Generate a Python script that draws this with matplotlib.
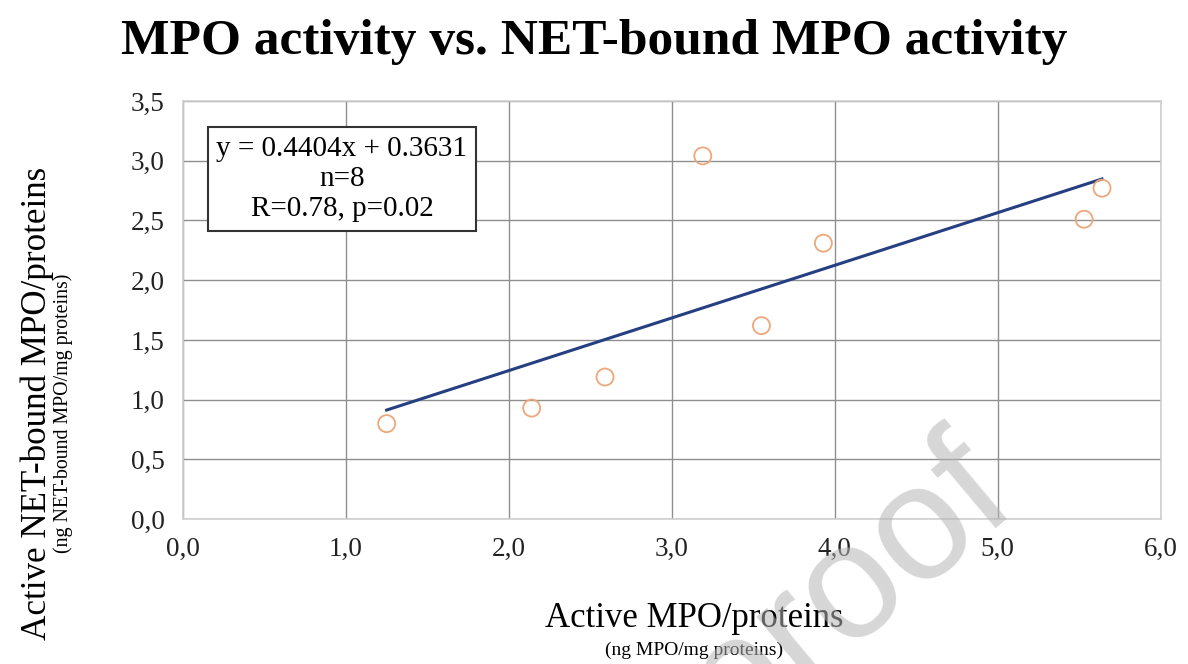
import matplotlib
matplotlib.use("Agg")
import matplotlib.pyplot as plt
import numpy as np

# data
active_mpo = [1.25, 2.14, 2.59, 3.19, 3.55, 3.93, 5.53, 5.64]
net_bound_mpo = [0.80, 0.93, 1.19, 3.04, 1.62, 2.31, 2.51, 2.77]
slope = 0.4404
intercept = 0.3631
x_ticks = [0, 1, 2, 3, 4, 5, 6]
y_ticks = [0, 0.5, 1.0, 1.5, 2.0, 2.5, 3.0, 3.5]

serif = "Liberation Serif"

fig = plt.figure(figsize=(11.88, 6.64), dpi=100)
ax = fig.add_axes([0.154, 0.218, 0.823, 0.630])

# trend line over the data range
x_fit = np.array([min(active_mpo), max(active_mpo)])
ax.plot(x_fit, slope * x_fit + intercept, color="#263f82", lw=2.2, zorder=3)

ax.scatter(active_mpo, net_bound_mpo, s=150, facecolors="none",
           edgecolors="#eda77a", linewidths=1.3, zorder=4)

ax.set_xlim(0, 6)
ax.set_ylim(0, 3.5)
ax.set_xticks(x_ticks)
ax.set_yticks(y_ticks)
ax.set_xticklabels([f"{v:.1f}".replace(".", ",") for v in x_ticks])
ax.set_yticklabels([f"{v:.1f}".replace(".", ",") for v in y_ticks])
ax.tick_params(length=0, labelsize=19.5, pad=13)
for lab in ax.get_xticklabels() + ax.get_yticklabels():
    lab.set_fontfamily(serif)
    lab.set_color("#222222")

ax.grid(True, color="#8f8f8f", lw=1.0)
ax.set_axisbelow(True)
for side in ax.spines.values():
    side.set_color("#cfcfcf")
    side.set_linewidth(1.2)

# equation box
ax.text(0.1626, 0.813, "y = 0.4404x + 0.3631\nn=8\nR=0.78, p=0.02",
        transform=ax.transAxes, ha="center", va="center", fontsize=21,
        family=serif, linespacing=1.2, zorder=5,
        bbox=dict(boxstyle="square,pad=0.3", fc="white", ec="#333333", lw=1.5))

fig.text(0.5, 0.937, "MPO activity vs. NET-bound MPO activity", ha="center",
         va="center", fontsize=37, fontweight="bold", family=serif)

fig.text(0.584, 0.069, "Active MPO/proteins", ha="center", va="center",
         fontsize=25, family=serif)
fig.text(0.584, 0.021, "(ng MPO/mg proteins)", ha="center", va="center",
         fontsize=14, family=serif)
fig.text(0.031, 0.393, "Active NET-bound MPO/proteins", ha="center",
         va="center", rotation=90, fontsize=25.2, family=serif)
fig.text(0.053, 0.378, "(ng NET-bound MPO/mg proteins)", ha="center",
         va="center", rotation=90, fontsize=14.3, family=serif)

# watermark
fig.text(0.859, 0.235, "Journal Pre-proof", ha="right", va="baseline",
         rotation=40, rotation_mode="anchor", fontsize=118,
         family="Liberation Sans", color="#b5b5b5", alpha=0.55, zorder=10)

fig.savefig("out.png", dpi=100)
